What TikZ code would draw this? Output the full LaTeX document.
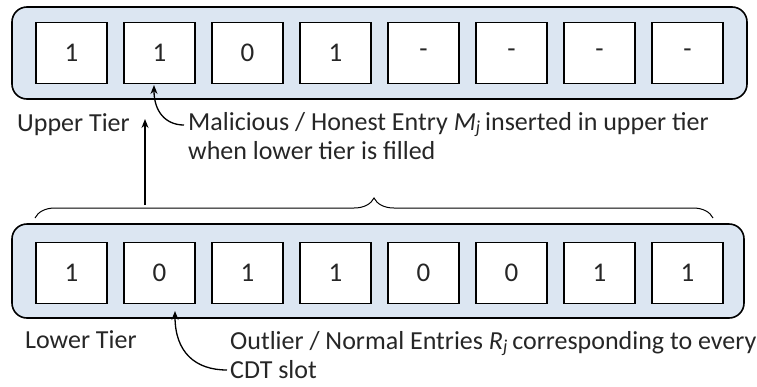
\documentclass[tikz,border=0pt]{standalone}
\usepackage{fontspec}
\setmainfont{Carlito}
\usetikzlibrary{decorations.pathreplacing,arrows.meta}
\definecolor{tierfill}{HTML}{DCE6F2}
\definecolor{txt}{HTML}{262626}
\tikzset{
  tier/.style={draw=black, line width=1.6pt, rounded corners=15pt, fill=tierfill},
  cell/.style={draw=black, line width=1.4pt, fill=white, minimum width=71pt, minimum height=61pt, inner sep=0pt, font=\fontsize{27}{30}\selectfont, text=txt},
  lbl/.style={anchor=base west, inner sep=0pt, font=\fontsize{26}{29}\selectfont, text=txt, align=left},
  arr/.style={line width=1.3pt, -{Stealth[length=9pt,width=7pt]}},
}
\begin{document}
\begin{tikzpicture}[x=1pt,y=-1pt]
\useasboundingbox (0,0) rectangle (757,386);
% upper tier
\draw[tier] (12,7) rectangle (747,99);
\foreach \v [count=\i] in {1,1,0,1,-,-,-,-}{
  \node[cell] (u\i) at ({71.5+88*(\i-1)},53) {\v};
}
% lower tier
\draw[tier] (12,224) rectangle (744,318);
\foreach \v [count=\i] in {1,0,1,1,0,0,1,1}{
  \node[cell] (l\i) at ({71.5+88*(\i-1)},273) {\v};
}
% labels
\node[lbl] (ut) at (17,131) {Upper Tier};
\node[lbl] (mt) at (188,159) {Malicious / Honest Entry \textit{M}\textsubscript{\textit{j}}\,inserted in upper tier\\when lower tier is filled};
\node[lbl] (lt) at (25,348) {Lower Tier};
\node[lbl] (ot) at (230,378) {Outlier / Normal Entries \textit{R}\textsubscript{\textit{j}}\,corresponding to every\\CDT slot};
% brace
\coordinate (bl) at (35,218);
\coordinate (br) at (713,218);
\draw[line width=1pt, decorate, decoration={brace, amplitude=20pt}] (bl) -- (br);
\coordinate (bs) at (145,205);
\coordinate (at) at (145,119);
\draw[arr] (bs) -- (at);
% callouts
\coordinate (mstart) at (184,125);
\coordinate (mend) at (154,85);
\draw[arr] (mstart) .. controls (166,125) and (154,112) .. (mend);
\coordinate (ostart) at (227,370);
\coordinate (oend) at (175,311);
\draw[arr] (ostart) .. controls (195,370) and (175,352) .. (oend);
\end{tikzpicture}
\end{document}
